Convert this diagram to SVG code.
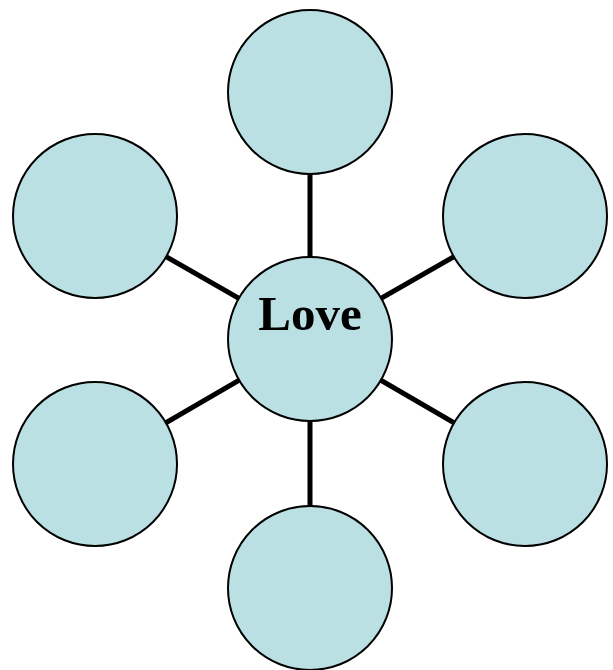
<svg xmlns="http://www.w3.org/2000/svg" width="613" height="670" viewBox="0 0 613 670">
<style>
.node{fill:#bbe0e3;stroke:#000;stroke-width:2}
.edge{stroke:#000;stroke-width:5;fill:none}
.lbl{font-family:"Liberation Serif","Times New Roman",serif;font-weight:bold;font-size:49px;fill:#000}
</style>
<rect width="613" height="670" fill="#fff"/>
<g id="connectors">
<line class="edge" x1="310" y1="339" x2="310" y2="92"/>
<line class="edge" x1="310" y1="339" x2="310" y2="588"/>
<line class="edge" x1="310" y1="339" x2="95" y2="216"/>
<line class="edge" x1="310" y1="339" x2="525" y2="216"/>
<line class="edge" x1="310" y1="339" x2="95" y2="464"/>
<line class="edge" x1="310" y1="339" x2="525" y2="464"/>
</g>
<g id="node-top"><circle class="node" cx="310" cy="92" r="82"/></g>
<g id="node-top-left"><circle class="node" cx="95" cy="216" r="82"/></g>
<g id="node-top-right"><circle class="node" cx="525" cy="216" r="82"/></g>
<g id="node-bottom-left"><circle class="node" cx="95" cy="464" r="82"/></g>
<g id="node-bottom-right"><circle class="node" cx="525" cy="464" r="82"/></g>
<g id="node-bottom"><circle class="node" cx="310" cy="588" r="82"/></g>
<g id="node-love"><circle class="node" cx="310" cy="339" r="82"/>
<text class="lbl" x="310" y="330" text-anchor="middle">Love</text></g>
</svg>
